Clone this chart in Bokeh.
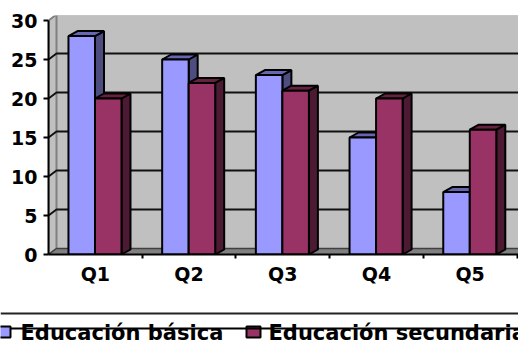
from bokeh.plotting import figure
from bokeh.models import FixedTicker, Range1d
from bokeh.embed import file_html
from bokeh.resources import INLINE
from bokeh.core.properties import value

categories = ["Q1", "Q2", "Q3", "Q4", "Q5"]
basica = [28, 25, 23, 15, 8]
secundaria = [20, 22, 21, 20, 16]
y_ticks = [0, 5, 10, 15, 20, 25, 30]
series_names = ["Educación básica", "Educación secundaria"]

FONT = "DejaVu Sans"
STEP = 93.7   # px per category
UNIT = 7.8    # px per value unit
W, H1, H2 = 518, 300, 43
LEFT, TOP, BOTTOM = 48, 15, 254
BW = 0.283
DX, DY = 9 / STEP, 5 / UNIT
WX, WY = 8 / STEP, 6 / UNIT
XMAX = (W - LEFT) / STEP
YMAX = (BOTTOM - TOP) / UNIT

p = figure(width=W, height=H1, output_backend="svg", toolbar_location=None,
           x_range=Range1d(0, XMAX), y_range=Range1d(0, YMAX),
           min_border_left=LEFT, min_border_right=0, min_border_top=TOP,
           min_border_bottom=H1 - BOTTOM,
           styles={"position": "absolute", "left": "0", "top": "0"})
p.grid.visible = False
p.outline_line_color = None
p.background_fill_color = "white"

# walls and floor
p.patch([WX, XMAX + 1, XMAX + 1, WX], [WY, WY, YMAX, YMAX], fill_color="#C0C0C0", line_color=None)
p.patch([0, WX, WX, 0], [0, WY, 30 + WY, 30], fill_color="#C0C0C0", line_color="#808080", line_width=2)
p.patch([0, WX, XMAX + 1, XMAX + 1], [0, WY, WY, 0], fill_color="#808080", line_color=None)
p.line([WX, XMAX + 1], [30 + WY, 30 + WY], line_color="#808080", line_width=2.5)
for t in y_ticks[1:-1]:
    p.line([0, WX, XMAX + 1], [t, t + WY, t + WY], line_color="#111111", line_width=2)
p.line([0, WX, XMAX + 1], [0, WY, WY], line_color="#404040", line_width=1.5)


def bars(vals, off, front, top, side):
    for i, v in enumerate(vals):
        x0 = i + off
        x1 = x0 + BW
        p.patch([x1, x1 + DX, x1 + DX, x1], [0, DY, v + DY, v], fill_color=side, line_color="black", line_width=2)
        p.patch([x0, x0 + DX, x1 + DX, x1], [v, v + DY, v + DY, v], fill_color=top, line_color="black", line_width=2)
    p.quad(left=[i + off for i in range(len(vals))], right=[i + off + BW for i in range(len(vals))],
           bottom=0, top=vals, fill_color=front, line_color="black", line_width=2)


bars(basica, 0.213, "#9999FF", "#6666B3", "#4D4D80")
bars(secundaria, 0.496, "#993366", "#66223F", "#4D1A33")

# axes
for ax in (p.xaxis[0], p.yaxis[0]):
    ax.axis_line_color = "black"
    ax.axis_line_width = 2
    ax.major_label_text_font = FONT
    ax.major_label_text_font_style = "bold"
    ax.major_label_text_color = "black"
p.yaxis[0].bounds = (0, 30)
p.yaxis[0].ticker = FixedTicker(ticks=y_ticks)
p.yaxis[0].major_tick_in = 0
p.yaxis[0].major_tick_out = 5
p.yaxis[0].major_tick_line_width = 2
p.yaxis[0].major_label_standoff = 6
p.yaxis[0].major_label_text_font_size = "19px"
p.xaxis[0].ticker = FixedTicker(ticks=[i + 0.5 for i in range(5)], minor_ticks=[1, 2, 3, 4, 5])
p.xaxis[0].major_label_overrides = {i + 0.5: c for i, c in enumerate(categories)}
p.xaxis[0].major_tick_line_color = None
p.xaxis[0].minor_tick_in = 0
p.xaxis[0].minor_tick_out = 4
p.xaxis[0].minor_tick_line_width = 2
p.xaxis[0].minor_tick_line_color = "black"
p.xaxis[0].major_label_standoff = 2
p.xaxis[0].major_label_text_font_size = "19px"

# legend strip
leg = figure(width=W, height=H2, output_backend="svg", toolbar_location=None,
             x_range=Range1d(0, W), y_range=Range1d(H1 + H2, H1),
             min_border=0, x_axis_location=None, y_axis_location=None,
             styles={"position": "absolute", "left": "0", "top": f"{H1}px"})
leg.grid.visible = False
leg.outline_line_color = None
leg.line([0, W], [313, 313], line_color="#222222", line_width=2)
leg.quad(left=[-4, 246], right=[10, 260], top=[326, 326], bottom=[337, 337],
         fill_color=["#9999FF", "#993366"], line_color="black", line_width=2)
leg.text(x=[20, 268], y=[332, 332], text=series_names, text_font=value(FONT),
         text_font_style="bold", text_font_size="21px", text_baseline="middle", text_color="black")
leg.line([10, W], [328, 328], line_color="black", line_width=2)

open("out.html", "w").write(file_html([p, leg], INLINE))
